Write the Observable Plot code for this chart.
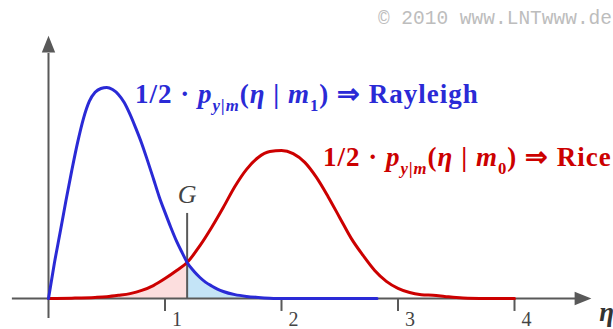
<!DOCTYPE html>
<html>
<head>
<meta charset="utf-8">
<script src="https://cdn.jsdelivr.net/npm/d3@7"></script>
<script src="https://cdn.jsdelivr.net/npm/@observablehq/plot@0.6"></script>
<style>
  body { margin: 0; background: #fff; }
  #chart svg { display: block; }
</style>
</head>
<body>
<div id="chart"></div>
<script>
// Conditional densities of the envelope η, each weighted by 1/2.
// Rayleigh: symbol m1 (no signal), Rice: symbol m0 (signal present).
const etaRayleigh = [0, 0.05, 0.1, 0.15, 0.2, 0.25, 0.3, 0.35, 0.4, 0.45, 0.5, 0.55, 0.6, 0.65, 0.7, 0.75, 0.8, 0.85, 0.9, 0.95, 1.0, 1.05, 1.1, 1.15, 1.19, 1.25, 1.3, 1.35, 1.4, 1.45, 1.5, 1.6, 1.7, 1.8, 1.9, 2.0, 2.4, 2.82];
const valRayleigh = [0, 0.100, 0.189, 0.280, 0.366, 0.446, 0.514, 0.563, 0.589, 0.600, 0.603, 0.597, 0.583, 0.560, 0.526, 0.486, 0.443, 0.394, 0.343, 0.291, 0.246, 0.203, 0.163, 0.129, 0.103, 0.077, 0.060, 0.046, 0.036, 0.027, 0.020, 0.011, 0.006, 0.003, 0.001, 0, 0, 0];

const etaRice = [0, 0.2, 0.4, 0.5, 0.6, 0.7, 0.8, 0.9, 1.0, 1.1, 1.19, 1.3, 1.4, 1.5, 1.6, 1.7, 1.8, 1.9, 2.0, 2.1, 2.2, 2.3, 2.4, 2.5, 2.6, 2.7, 2.8, 2.9, 3.0, 3.1, 3.2, 3.3, 3.4, 3.5, 3.6, 3.8, 4.0];
const valRice = [0, 0.001, 0.003, 0.005, 0.009, 0.014, 0.023, 0.037, 0.057, 0.080, 0.103, 0.151, 0.203, 0.260, 0.320, 0.369, 0.403, 0.420, 0.423, 0.414, 0.389, 0.346, 0.291, 0.231, 0.171, 0.123, 0.080, 0.049, 0.029, 0.017, 0.011, 0.009, 0.006, 0.003, 0.001, 0, 0];

// Decision threshold G and the height of its marker line
const thresholdEta = 1.19;
const thresholdTop = 0.243;
const thresholdLabel = "G";

// Axis ticks and texts
const tickValues = [1, 2, 3, 4];
const tickLabels = ["1", "2", "3", "4"];
const axisTitle = "η";
const seriesIndex = ["1", "0"];
const seriesName = ["Rayleigh", "Rice"];
const copyright = "© 2010 www.LNTwww.de";

// Extents of the drawn axis lines, in data units
const xAxisExtent = [-0.31, 4.56];
const yAxisExtent = [-0.057, 0.70];
const xArrowAt = 4.588;
const yArrowAt = 0.727;
const tickLength = 0.037;

const rayleigh = etaRayleigh.map((eta, i) => ({eta, v: valRayleigh[i]}));
const rice = etaRice.map((eta, i) => ({eta, v: valRice[i]}));
const riceBelowG = rice.filter(d => d.eta <= thresholdEta);
const rayleighAboveG = rayleigh.filter(d => d.eta >= thresholdEta && d.eta <= 2.0);

const serif = "'Liberation Serif', 'Times New Roman', serif";
const axisColor = "#595959";
const blue = "#2a2ad6";
const red = "#cc0000";

// Slender filled arrow head pointing up (rotated for the x axis)
const arrowHead = {
  draw(context) {
    context.moveTo(0, -8.4);
    context.lineTo(6.7, 8.4);
    context.lineTo(-6.7, 8.4);
    context.closePath();
  }
};

const plot = Plot.plot({
  width: 613,
  height: 329,
  marginLeft: 48,
  marginRight: 99,
  marginTop: 0,
  marginBottom: 31,
  x: {domain: [0, 4], axis: null},
  y: {domain: [0, 298 / 350], axis: null},
  style: {background: "#fff", overflow: "visible", fontFamily: serif},
  marks: [
    Plot.areaY(riceBelowG, {x: "eta", y: "v", fill: "#fcdede", curve: "monotone-x"}),
    Plot.areaY(rayleighAboveG, {x: "eta", y: "v", fill: "#c4e4f7", curve: "monotone-x"}),
    // axes with filled arrow heads
    Plot.ruleY([0], {x1: xAxisExtent[0], x2: xAxisExtent[1], stroke: axisColor, strokeWidth: 2}),
    Plot.ruleX([0], {y1: yAxisExtent[0], y2: yAxisExtent[1], stroke: axisColor, strokeWidth: 2}),
    Plot.dot([[xArrowAt, 0]], {x: d => d[0], y: d => d[1], symbol: arrowHead, fill: axisColor, stroke: "none", rotate: 90}),
    Plot.dot([[0, yArrowAt]], {x: d => d[0], y: d => d[1], symbol: arrowHead, fill: axisColor, stroke: "none"}),
    Plot.ruleX(tickValues, {y1: 0, y2: -tickLength, stroke: axisColor, strokeWidth: 2}),
    Plot.text(tickValues, {x: d => d, y: -tickLength, text: (d, i) => tickLabels[i], dx: 12, dy: 0, lineAnchor: "top", fontSize: 20, fill: "#444", fontFamily: serif}),
    Plot.text([axisTitle], {x: 4.79, y: 0, text: d => d, dy: 14, fontSize: 27, fontStyle: "italic", fontWeight: "bold", fill: "#333", fontFamily: serif}),
    // decision threshold
    Plot.ruleX([thresholdEta], {y1: 0, y2: thresholdTop, stroke: axisColor, strokeWidth: 2}),
    Plot.text([thresholdLabel], {x: thresholdEta, y: thresholdTop, text: d => d, dy: -10, lineAnchor: "bottom", fontSize: 26, fontStyle: "italic", fill: "#444", fontFamily: serif}),
    // density curves
    Plot.line(rice, {x: "eta", y: "v", stroke: red, strokeWidth: 3, curve: "monotone-x"}),
    Plot.line(rayleigh, {x: "eta", y: "v", stroke: blue, strokeWidth: 3, curve: "monotone-x"})
  ]
});

document.getElementById("chart").append(plot);

// Rich-text curve labels placed through the plot's scales
const sx = plot.scale("x"), sy = plot.scale("y");
const svg = d3.select(plot);

function curveLabel(eta, v, color, index, name, size) {
  const parts = [
    {t: "1/2 · "},
    {t: "p", i: true},
    {t: "y|m", i: true, sub: true},
    {t: "("},
    {t: "η", i: true},
    {t: " | "},
    {t: "m", i: true},
    {t: index, sub: true},
    {t: ")"},
    {t: " ⇒ " + name}
  ];
  const text = svg.append("text")
    .attr("x", sx.apply(eta))
    .attr("y", sy.apply(v))
    .attr("text-anchor", "start")
    .attr("fill", color)
    .attr("font-family", serif)
    .attr("font-weight", "bold")
    .attr("font-size", size)
    .attr("letter-spacing", 1);
  let shift = 0;
  for (const p of parts) {
    const target = p.sub ? size * 0.3 : 0;
    const ts = text.append("tspan").text(p.t);
    if (target !== shift) { ts.attr("dy", target - shift); shift = target; }
    if (p.i) ts.attr("font-style", "italic");
    if (p.sub) ts.attr("font-size", size * 0.62);
  }
}

curveLabel(0.747, 0.557, blue, seriesIndex[0], seriesName[0], 27);
curveLabel(2.36, 0.377, red, seriesIndex[1], seriesName[1], 27);

svg.append("text")
  .attr("x", 612)
  .attr("y", 24)
  .attr("text-anchor", "end")
  .attr("fill", "#bdbdbd")
  .attr("font-family", "'Liberation Mono', 'Courier New', monospace")
  .attr("font-size", 19.5)
  .text(copyright);
</script>
</body>
</html>
